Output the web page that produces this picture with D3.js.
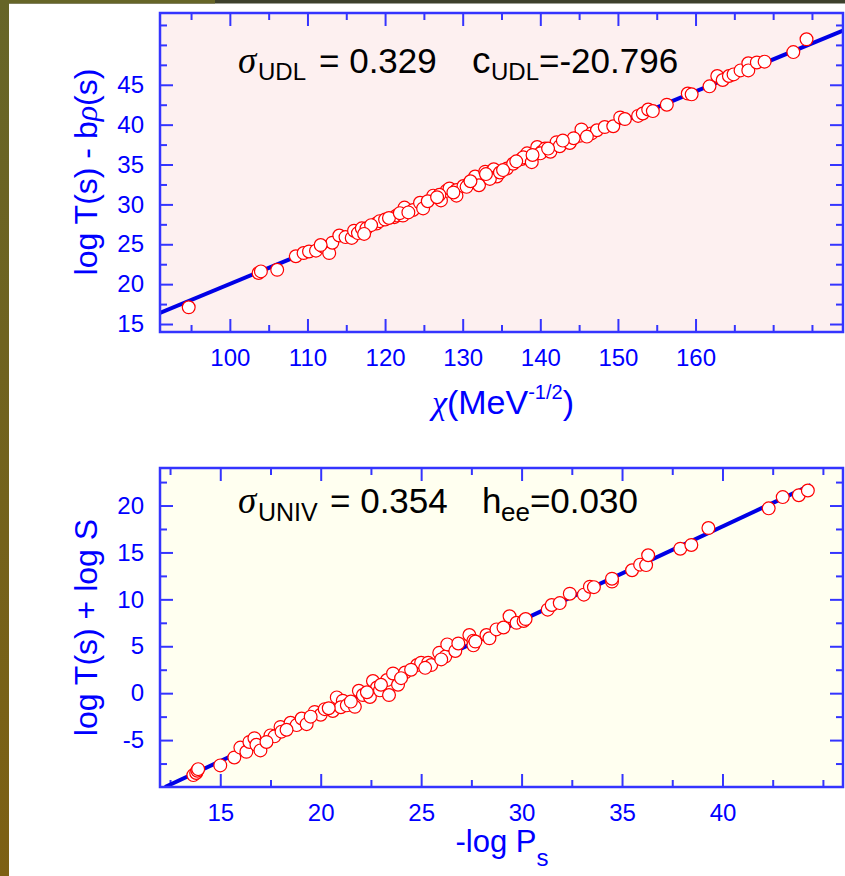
<!DOCTYPE html>
<html><head><meta charset="utf-8">
<script src="https://cdn.jsdelivr.net/npm/d3@7/dist/d3.min.js"></script>
<style>body{margin:0;background:#fff}svg{display:block}</style>
</head><body><svg id="c" width="845" height="876"></svg>
<script>
// ---------- DATA ----------
// Top panel: chi (MeV^-1/2) vs log T(s) - b*rho(s)
const topChi = [94.7,103.7,104.0,106.1,108.5,109.5,110.2,111.1,112.0,112.8,113.2,114.1,114.9,115.7,116.0,116.5,117.0,117.6,118.9,119.3,120.0,121.2,121.5,122.5,122.3,123.6,124.5,124.9,126.2,127.2,127.9,128.3,129.2,129.2,130.1,130.8,131.6,132.1,132.9,134.0,134.4,111.7,133.5,135.7,136.5,137.6,138.3,139.6,140.2,140.6,137.8,138.9,140.0,141.3,142.1,142.5,143.8,145.1,145.3,146.6,147.3,148.3,149.4,150.3,150.9,152.6,153.2,153.9,154.5,156.3,159.0,159.5,161.8,162.8,163.5,164.3,164.9,165.8,166.8,166.8,167.9,168.9,172.6,174.3,118.2,120.5,125.5,127.0,130.5,134.8,136.9,141.0,144.3,117.3,121.9,123.0,126.7,128.8,131.0,133.0,135.2,139.0,142.9,146.0];
const topLogT = [17.1,21.4,21.6,21.8,23.5,23.9,24.1,24.2,24.7,23.9,25.2,26.1,25.9,25.8,26.7,26.4,27.0,27.0,27.6,27.9,28.1,28.4,28.6,29.6,28.6,29.3,30.2,29.5,31.1,30.5,31.7,32.0,31.8,31.1,32.3,32.6,33.5,32.4,34.1,34.4,33.5,24.9,33.2,34.5,35.1,35.7,36.4,37.2,36.6,37.0,35.9,35.3,36.4,36.6,37.8,37.3,37.7,38.6,39.4,38.9,39.3,39.7,39.8,40.9,40.7,41.1,41.4,41.9,41.7,42.5,43.9,43.8,44.8,46.1,45.6,46.1,46.3,46.8,47.7,46.8,47.8,47.9,49.1,50.7,27.4,28.3,30.4,31.2,32.2,34.0,35.4,37.0,38.3,26.3,28.9,29.0,30.9,31.5,32.9,33.8,34.3,36.2,38.0,38.5];
const topFitX = [91, 179];
const topFitY = [16.4, 51.8];
const topXTicks = [100,110,120,130,140,150,160];
const topXMinor = [95,105,115,125,135,145,155,165,170,175];
const topYTicks = [15,20,25,30,35,40,45];
const topYMinor = [17.5,22.5,27.5,32.5,37.5,42.5,47.5,50,52.5];

// Bottom panel: -log Ps vs log T(s) + log S
const botLogP = [13.66,13.8,13.86,13.9,15.0,15.7,16.0,16.3,16.45,16.7,16.8,17.0,17.5,17.7,18.0,18.05,18.5,18.8,19.05,19.3,19.7,20.0,20.2,20.6,20.8,21.1,21.0,21.3,21.7,21.9,22.1,22.45,22.6,22.8,22.95,23.4,23.3,23.6,23.85,24.2,24.8,25.0,25.35,25.5,25.9,26.2,26.3,26.7,26.85,27.4,27.6,27.6,28.25,27.7,28.4,28.75,29.1,29.4,29.75,30.1,30.2,31.3,31.5,31.9,32.4,33.1,33.4,33.6,34.5,34.5,35.5,35.9,36.2,36.3,37.9,38.45,39.3,42.3,43.0,43.8,44.25,19.5,21.5,22.3,24.0,25.2,26.0,17.3,18.3,20.4,23.0,24.5];
const botLogTS = [-8.73,-8.5,-8.27,-8.1,-7.7,-6.85,-5.8,-6.25,-5.2,-4.8,-5.5,-6.1,-4.5,-4.6,-3.6,-4.1,-3.15,-3.4,-2.7,-3.3,-2.0,-2.3,-1.7,-1.9,-0.45,-0.8,-1.5,-1.3,-1.45,0.26,-0.2,-0.4,1.3,0.6,0.3,-0.2,1.4,2.1,0.9,2.2,3.0,3.25,3.25,3.0,4.3,3.9,5.2,4.5,5.3,6.2,5.6,5.1,6.2,5.5,5.85,6.8,7.0,8.2,7.5,7.7,7.9,8.9,9.4,9.6,10.6,10.5,11.35,11.3,11.9,12.2,13.1,13.7,13.65,14.7,15.4,15.8,17.6,19.7,20.9,21.1,21.6,-2.5,-0.9,0.1,1.6,2.7,3.6,-5.2,-3.9,-1.6,0.9,2.5];
const botFitX = [12.25, 44.4];
const botFitY = [-10, 22.17];
const botXTicks = [15,20,25,30,35,40];
const botXMinor = [12.5,17.5,22.5,27.5,32.5,37.5,42.5,45];
const botYTicks = [-5,0,5,10,15,20];
const botYMinor = [-7.5,-2.5,2.5,7.5,12.5,17.5,22.5];

// ---------- DRAW ----------
const svg = d3.select('#c');
const SANS = "'Liberation Sans', Arial, Helvetica, sans-serif";
const SERIF = "'Liberation Serif', 'Times New Roman', serif";
const AX = '#3434ff';

const defs = svg.append('defs');
const lg = defs.append('linearGradient').attr('id','lg').attr('x1',0).attr('y1',0).attr('x2',0).attr('y2',1);
lg.append('stop').attr('offset','0%').attr('stop-color','#666528');
lg.append('stop').attr('offset','100%').attr('stop-color','#7d6013');
svg.append('rect').attr('x',0).attr('y',0).attr('width',845).attr('height',3.5).attr('fill','#3d402c');
svg.append('rect').attr('x',0).attr('y',0).attr('width',215).attr('height',3.5).attr('fill','#666528');
svg.append('rect').attr('x',0).attr('y',0).attr('width',9).attr('height',876).attr('fill','url(#lg)');

function panel(c){
  const x = d3.scaleLinear().domain(c.xDom).range([c.left,c.right]);
  const y = d3.scaleLinear().domain(c.yDom).range([c.bottom,c.top]);
  svg.append('rect').attr('x',c.left).attr('y',c.top).attr('width',c.right-c.left).attr('height',c.bottom-c.top).attr('fill',c.bg);
  defs.append('clipPath').attr('id','clip'+c.id).append('rect')
    .attr('x',c.left).attr('y',c.top).attr('width',c.right-c.left).attr('height',c.bottom-c.top);

  const axis = (gen, tr, vals, size, lab, pad) => {
    const g = svg.append('g').attr('transform',tr)
      .call(gen.tickValues(vals).tickSize(size).tickSizeOuter(0).tickPadding(pad||3)
        .tickFormat(lab ? (d => String(d)) : () => ''));
    g.select('.domain').remove();
    g.selectAll('line').attr('stroke',AX).attr('stroke-width',2);
    g.selectAll('text').attr('fill','#0000ff').attr('font-size',24).attr('font-family',SANS);
  };
  axis(d3.axisBottom(x), `translate(0,${c.bottom})`, c.xMaj, -13, true, 17);
  axis(d3.axisBottom(x), `translate(0,${c.bottom})`, c.xMin, -7, false);
  axis(d3.axisTop(x), `translate(0,${c.top})`, c.xMaj, -13, false);
  axis(d3.axisTop(x), `translate(0,${c.top})`, c.xMin, -7, false);
  axis(d3.axisLeft(y), `translate(${c.left},0)`, c.yMaj, -13, true, 16);
  axis(d3.axisLeft(y), `translate(${c.left},0)`, c.yMin, -7, false);
  axis(d3.axisRight(y), `translate(${c.right},0)`, c.yMaj, -13, false);
  axis(d3.axisRight(y), `translate(${c.right},0)`, c.yMin, -7, false);

  svg.append('path').datum(d3.zip(c.lx,c.ly))
    .attr('clip-path',`url(#clip${c.id})`)
    .attr('d', d3.line().x(d=>x(d[0])).y(d=>y(d[1])))
    .attr('stroke','#0000e6').attr('stroke-width',4).attr('fill','none');

  svg.append('g').selectAll('circle').data(d3.zip(c.px,c.py)).join('circle')
    .attr('cx',d=>x(d[0])).attr('cy',d=>y(d[1])).attr('r',6.4)
    .attr('fill','#fff').attr('stroke','#ff0000').attr('stroke-width',1.2);

  svg.append('rect').attr('x',c.left).attr('y',c.top).attr('width',c.right-c.left).attr('height',c.bottom-c.top)
    .attr('fill','none').attr('stroke',AX).attr('stroke-width',2.5);
}

panel({id:1,left:160,right:843,top:13,bottom:332,xDom:[91,179],yDom:[14,54],bg:'#fdf0f0',
  xMaj:topXTicks,xMin:topXMinor,yMaj:topYTicks,yMin:topYMinor,px:topChi,py:topLogT,lx:topFitX,ly:topFitY});
panel({id:2,left:160,right:843,top:468,bottom:787,xDom:[12,46],yDom:[-10,24],bg:'#fffff0',
  xMaj:botXTicks,xMin:botXMinor,yMaj:botYTicks,yMin:botYMinor,px:botLogP,py:botLogTS,lx:botFitX,ly:botFitY});

// annotations
function annot(yb, parts){
  const t = svg.append('text').attr('y',yb).attr('fill','#000').attr('font-family',SANS).attr('font-size',35);
  parts.forEach(p=>{
    const s = t.append('tspan').text(p.t);
    if(p.x!==undefined) s.attr('x',p.x);
    if(p.dy) s.attr('dy',p.dy);
    if(p.fs) s.attr('font-size',p.fs);
    if(p.serif) s.attr('font-family',SERIF).attr('font-style','italic');
  });
}
annot(73, [
  {t:'\u03c3',x:238,serif:true,fs:37},
  {t:'UDL',x:258,fs:24,dy:7},
  {t:'= 0.329',x:319,dy:-7},
  {t:'c',x:472,fs:37},
  {t:'UDL',x:491,fs:24,dy:7},
  {t:'=-20.796',dy:-7}
]);
annot(513, [
  {t:'\u03c3',x:238,serif:true,fs:37},
  {t:'UNIV',x:258,fs:25,dy:8},
  {t:'= 0.354',x:330,dy:-8},
  {t:'h',x:482},
  {t:'ee',x:501,fs:26,dy:8},
  {t:'=0.030',dy:-8}
]);

// axis titles
const xt1 = svg.append('text').attr('x',503).attr('y',414).attr('text-anchor','middle')
  .attr('fill','#0000ff').attr('font-family',SANS).attr('font-size',34);
xt1.append('tspan').attr('font-family',SERIF).attr('font-style','italic').text('\u03c7');
xt1.append('tspan').text('(MeV');
xt1.append('tspan').attr('font-size',20).attr('dy',-15).text('-1/2');
xt1.append('tspan').attr('dy',15).text(')');

const xt2 = svg.append('text').attr('x',502).attr('y',852).attr('text-anchor','middle')
  .attr('fill','#0000ff').attr('font-family',SANS).attr('font-size',31);
xt2.append('tspan').text('-log P');
xt2.append('tspan').attr('font-size',24).attr('dy',14).text('s');

const yt1 = svg.append('text').attr('transform','translate(97,172) rotate(-90)').attr('text-anchor','middle')
  .attr('fill','#0000ff').attr('font-family',SANS).attr('font-size',32);
yt1.append('tspan').text('log T(s) - b');
yt1.append('tspan').attr('font-family',SERIF).attr('font-style','italic').text('\u03c1');
yt1.append('tspan').text('(s)');

svg.append('text').attr('transform','translate(97,627.5) rotate(-90)').attr('text-anchor','middle')
  .attr('fill','#0000ff').attr('font-family',SANS).attr('font-size',32).text('log T(s) + log S');
</script></body></html>
